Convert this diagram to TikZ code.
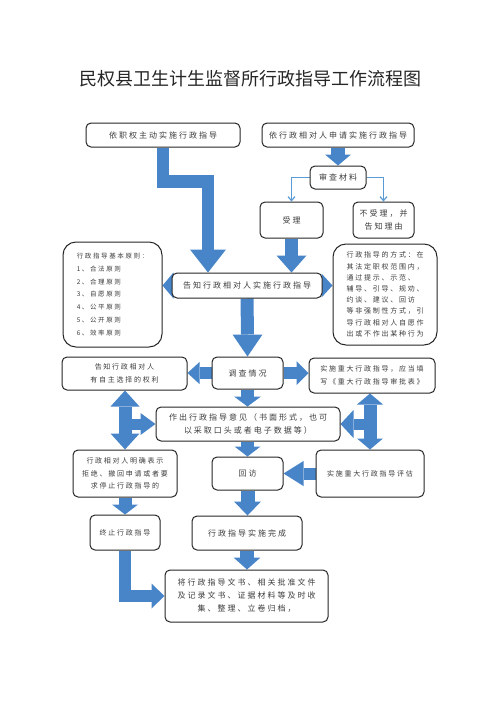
\documentclass[tikz,border=0pt]{standalone}
\usepackage{fontspec}
\newfontfamily\cjk[LetterSpace=25]{Noto Sans CJK SC}
\newfontfamily\cjktitle{Noto Sans CJK SC}
\usetikzlibrary{calc,arrows.meta}
\pgfdeclarelayer{background}
\pgfsetlayers{background,main}
\definecolor{blk}{RGB}{72,132,200}
\definecolor{thinb}{RGB}{91,155,213}
\definecolor{txt}{RGB}{60,60,60}
\newcommand\tipdown[3]{\fill[blk] (#1) -- ++(-#2,-#3) -- ++({2*#2},0) -- cycle;}
\newcommand\tipup[3]{\fill[blk] (#1) -- ++(-#2,#3) -- ++({2*#2},0) -- cycle;}
\newcommand\tipleft[3]{\fill[blk] (#1) -- ++(#3,-#2) -- ++(0,{2*#2}) -- cycle;}
\newcommand\tipright[3]{\fill[blk] (#1) -- ++(-#3,-#2) -- ++(0,{2*#2}) -- cycle;}
\tikzset{
  box/.style={draw=black!85, line width=1pt, rounded corners=5pt, fill=white, text=txt, inner sep=0pt, align=center},
  fbig/.style={font=\cjk\fontsize{8}{13}\selectfont},
  fsmall/.style={font=\cjk\fontsize{7}{12.5}\selectfont},
  shaft/.style={draw=blk, line width=#1},
  thinarrow/.style={draw=thinb, line width=1.2pt, -{Straight Barb[length=4pt,width=7pt]}},
}
\begin{document}
\begin{tikzpicture}[x=1pt,y=-1pt]
\useasboundingbox (0,0) rectangle (496,702);
\node[font=\cjktitle\fontsize{18}{20}\selectfont, text=black!85] (title) at (250,79) {民权县卫生计生监督所行政指导工作流程图};

\node[box,fbig,minimum width=154pt,minimum height=24pt] (b1) at (163,135) {依职权主动实施行政指导};
\node[box,fbig,minimum width=152pt,minimum height=24pt] (b2) at (338,135) {依行政相对人申请实施行政指导};
\node[box,fbig,minimum width=56pt,minimum height=23pt] (sc) at (338,177.5) {审查材料};
\node[box,fbig,minimum width=63pt,minimum height=36pt] (sl) at (291.5,220) {受理};
\node[box,fbig,minimum width=61pt,minimum height=36pt] (bs) at (383.5,220) {不受理，并\\告知理由};
\node[box,fbig,minimum width=150pt,minimum height=25pt] (gz) at (247,285.5) {告知行政相对人实施行政指导};
\node[box,rounded corners=13pt,align=left,font=\cjk\fontsize{6.5}{12.7}\selectfont,minimum width=99pt,minimum height=105pt] (yz) at (112.5,294.5)
  {行政指导基本原则：\\1、合法原则\\2、合理原则\\3、自愿原则\\4、公平原则\\5、公开原则\\6、效率原则};
\node[box,rounded corners=13pt,align=left,font=\cjk\fontsize{7}{11.2}\selectfont,minimum width=104pt,minimum height=101pt] (fs) at (385,294.5)
  {行政指导的方式：在\\其法定职权范围内，\\通过提示、示范、\\辅导、引导、规劝、\\约谈、建议、回访\\等非强制性方式，引\\导行政相对人自愿作\\出或不作出某种行为};
\node[box,fbig,minimum width=71pt,minimum height=32pt] (dc) at (247.5,373) {调查情况};
\node[box,fsmall,minimum width=125pt,minimum height=33pt] (zz) at (124.5,373.5) {告知行政相对人\\有自主选择的权利};
\node[box,fsmall,minimum width=126pt,minimum height=35pt] (zd) at (372,375.5) {实施重大行政指导，应当填\\写《重大行政指导审批表》};
\node[box,fbig,minimum width=184pt,minimum height=34pt] (zc) at (248,424) {作出行政指导意见（书面形式，也可\\以采取口头或者电子数据等）};
\node[box,fsmall,minimum width=104pt,minimum height=47pt] (jj) at (125,473.5) {行政相对人明确表示\\拒绝、撤回申请或者要\\求停止行政指导的};
\node[box,fbig,minimum width=71pt,minimum height=33pt] (hf) at (247.5,473.5) {回访};
\node[box,fsmall,minimum width=108pt,minimum height=47pt] (pg) at (370,473.5) {实施重大行政指导评估};
\node[box,fsmall,minimum width=70pt,minimum height=35pt] (zzz) at (125,532.5) {终止行政指导};
\node[box,fbig,minimum width=110pt,minimum height=34pt] (wc) at (247,533) {行政指导实施完成};
\node[box,fbig,minimum width=163pt,minimum height=52pt] (gd) at (246.5,596) {将行政指导文书、相关批准文件\\及记录文书、证据材料等及时收\\集、整理、立卷归档，};

\begin{pgfonlayer}{background}
% b2 -> sc
\draw[shaft=14pt] (b2.south) -- ($(sc.north)+(0,-11)$);
\tipdown{sc.north}{13}{11}
% sc -> sl, bs
\draw[thinarrow] (sc.west) -| (sl.north);
\draw[thinarrow] (sc.east) -| (bs.north);
% b1 elbow -> gz
\draw[shaft=12.5pt, line join=miter] (b1.south) -- ++(0,34) -| ($(gz.north)+(-39,-23)$);
\tipdown{$(gz.north)+(-39,0)$}{18}{23}
% sl -> gz
\draw[shaft=13pt] (sl.south) -- ($(gz.north -| sl.south)+(0,-17)$);
\tipdown{gz.north -| sl.south}{15}{17}
% gz side arrows
\tipleft{gz.west -| yz.east}{13}{11}
\tipright{gz.east -| fs.west}{12}{11}
% gz -> dc
\draw[shaft=13pt] (gz.south) -- ($(dc.north)+(0,-22)$);
\tipdown{dc.north}{15}{22}
% dc -> zz, zd
\draw[shaft=12pt] (dc.west) -- ($(dc.west -| zz.east)+(12,0)$);
\tipleft{dc.west -| zz.east}{11}{12}
\draw[shaft=12pt] (dc.east) -- ($(dc.east -| zd.west)+(-12,0)$);
\tipright{dc.east -| zd.west}{12}{12}
% dc -> zc
\draw[shaft=13pt] (dc.south) -- ($(dc.south |- zc.north)+(0,-10)$);
\tipdown{dc.south |- zc.north}{13.5}{10}
% left T
\draw[shaft=13pt] ($(zz.south -| jj.north)+(0,16)$) -- ($(jj.north)+(0,-16)$);
\tipup{zz.south -| jj.north}{14.5}{16}
\tipdown{jj.north}{14.5}{16}
\draw[shaft=11pt] (jj.north |- zc.west) -- ($(zc.west)+(-15,0)$);
\tipright{zc.west}{11}{15}
% right T
\draw[shaft=13pt] ($(zd.south -| pg.north)+(0,11)$) -- ($(pg.north)+(0,-11)$);
\tipup{zd.south -| pg.north}{13}{11}
\tipdown{pg.north}{13}{11}
\draw[shaft=11pt] (pg.north |- zc.east) -- ($(zc.east)+(13,0)$);
\tipleft{zc.east}{14}{13}
% zc -> hf
\draw[shaft=13pt] (zc.south -| hf.north) -- ($(hf.north)+(0,-10)$);
\tipdown{hf.north}{13}{10}
% pg -> hf
\draw[shaft=12pt] (pg.west) -- ($(hf.east)+(20,0)$);
\tipleft{hf.east}{12.5}{20}
% jj -> zzz
\draw[shaft=13pt] (jj.south) -- ($(zzz.north)+(0,-10)$);
\tipdown{zzz.north}{13}{10}
% hf -> wc
\draw[shaft=14pt] (hf.south) -- ($(hf.south |- wc.north)+(0,-14)$);
\tipdown{hf.south |- wc.north}{13.5}{14}
% wc -> gd
\draw[shaft=14pt] (wc.south) -- ($(wc.south |- gd.north)+(0,-12)$);
\tipdown{wc.south |- gd.north}{13.5}{12}
% zzz elbow -> gd
\draw[shaft=12pt, line join=miter] (zzz.south) |- ($(gd.west)+(-13,0)$);
\tipright{gd.west}{12.5}{13}
\end{pgfonlayer}
\end{tikzpicture}
\end{document}
